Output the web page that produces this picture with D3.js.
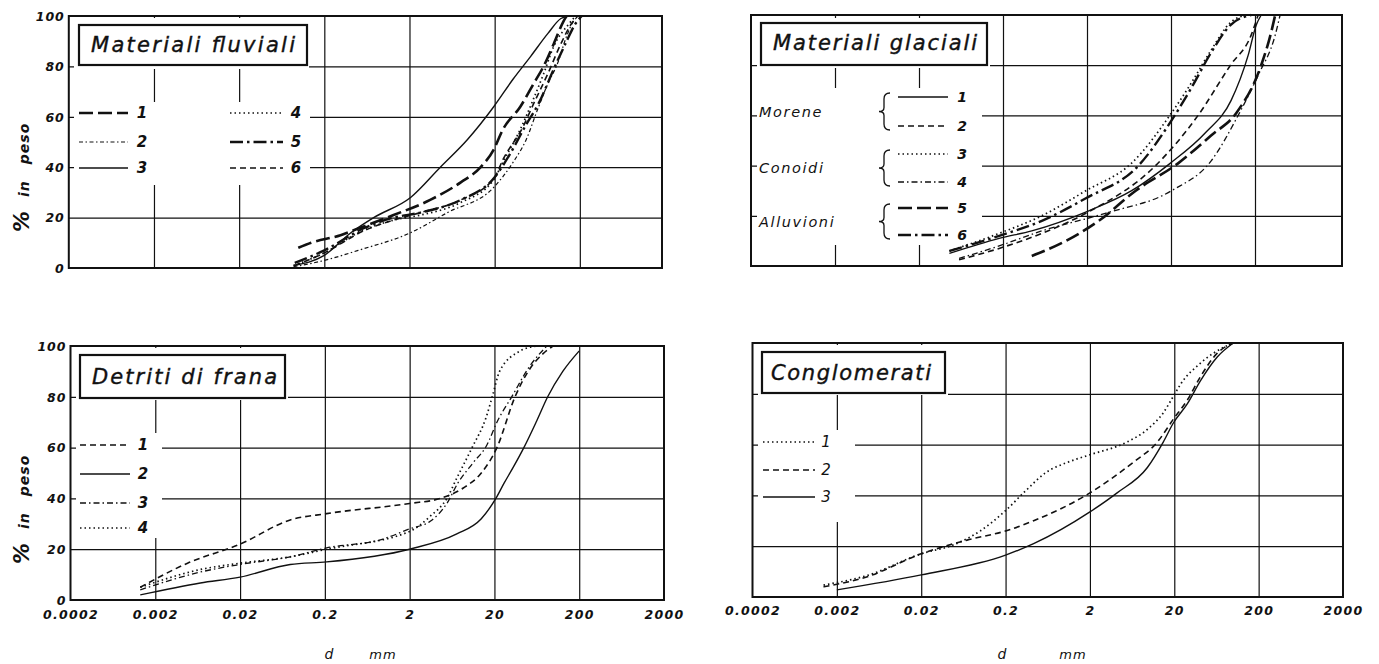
<!DOCTYPE html>
<html>
<head>
<meta charset="utf-8">
<script src="https://cdn.jsdelivr.net/npm/d3@7"></script>
<style>
  body { margin: 0; background: #fff; }
  text { font-family: "DejaVu Sans", sans-serif; fill: #111; }
</style>
</head>
<body>
<svg id="chart" width="1379" height="664"></svg>
<script>
// ---- tick values and labels ----
const xTicks = [0.0002, 0.002, 0.02, 0.2, 2, 20, 200, 2000];
const xTickLabels = ["0.0002", "0.002", "0.02", "0.2", "2", "20", "200", "2000"];
const yTicks = [0, 20, 40, 60, 80, 100];
const yTickLabels = ["0", "20", "40", "60", "80", "100"];

// ---- curves: [d in mm, % in peso] ----
// Materiali fluviali
const fluviali1 = [[0.099, 8], [0.14, 10], [0.31, 13], [0.53, 16], [1.3, 21], [3.5, 27], [8, 34], [13.7, 40], [19.5, 47], [25, 55], [40, 64], [57, 73], [75, 80], [99, 89], [129, 98], [140, 100]];
const fluviali2 = [[0.087, 0.5], [0.2, 3], [0.5, 7], [2.06, 14], [5.6, 22], [19.5, 32], [33, 42], [47, 51], [64, 63], [84, 73], [109, 81], [140, 92], [169, 98], [200, 100]];
const fluviali3 = [[0.087, 1], [0.2, 5], [0.41, 14], [0.76, 20], [2.06, 28], [4.6, 40], [9.6, 51], [19.5, 64], [33, 75], [53, 84], [84, 93], [120, 99], [150, 100]];
const fluviali4 = [[0.087, 1], [0.2, 6], [0.5, 14], [1.3, 19], [2.7, 21], [8, 26], [19.5, 35], [25, 42], [40, 55], [57, 67], [75, 77], [99, 88], [150, 97], [178, 100]];
const fluviali5 = [[0.09, 2], [0.2, 7], [0.6, 16], [1.3, 20], [2.7, 22], [8, 27], [20, 36], [30, 45], [47, 57], [65, 65], [99, 79], [140, 90], [178, 97], [211, 100]];
const fluviali6 = [[0.09, 1], [0.2, 6], [0.6, 15], [1.3, 19], [2.7, 22], [8, 27], [20, 36], [25, 43], [43, 56], [57, 65], [84, 77], [120, 89], [160, 97], [190, 100]];

// Materiali glaciali
const glaciali1 = [[0.046, 5], [0.18, 11], [0.44, 14], [2.1, 22], [6.8, 30], [19.7, 41], [51, 53], [104, 66], [166, 84], [207, 96], [237, 100]];
const glaciali2 = [[0.06, 2.5], [0.18, 7], [0.58, 13], [1.94, 21], [13.1, 40], [42, 60], [102, 80], [180, 92], [218, 100]];
const glaciali3 = [[0.046, 6], [0.18, 13], [0.58, 20], [1.94, 30], [6.8, 41], [20.3, 61], [35, 73], [60, 86], [102, 97], [157, 100]];
const glaciali4 = [[0.06, 3], [0.18, 8], [0.58, 14], [3.3, 21], [20.3, 30], [60.5, 42], [126, 60], [218, 76], [348, 92], [398, 100]];
const glaciali5 = [[0.44, 4], [1.12, 10], [2.76, 18], [7.6, 30], [24.5, 41], [60, 52], [120, 61], [237, 80], [311, 93], [348, 100]];
const glaciali6 = [[0.046, 6], [0.18, 12], [0.58, 18], [1.94, 27], [8.2, 40], [20.3, 58], [35, 71], [60, 85], [102, 96], [180, 100]];

// Detriti di frana
const frana1 = [[0.00133, 5], [0.0048, 14.5], [0.02, 22], [0.078, 31.5], [0.21, 34], [2, 38], [4.6, 40], [8.5, 44], [14, 50], [21.4, 60], [35, 80], [50, 90], [75, 97], [98, 100]];
const frana2 = [[0.00133, 2], [0.0068, 6.7], [0.02, 9], [0.078, 14], [0.21, 15], [2, 20], [7.2, 26], [14, 32], [20.8, 40], [26, 46], [33, 52], [44.5, 60], [63, 70.5], [85, 80], [128, 90], [199, 98]];
const frana3 = [[0.00133, 4], [0.0068, 11], [0.02, 14], [0.078, 17], [0.21, 20.5], [0.97, 24], [2, 28], [3.5, 31], [5.5, 38], [7.4, 46], [11.2, 54], [16.3, 61], [21.4, 70], [32, 80], [52, 92], [83, 100]];
const frana4 = [[0.00133, 5], [0.0068, 12], [0.02, 14.5], [0.078, 17], [0.21, 20], [2, 27], [3.5, 33], [5.5, 40], [7.2, 48], [10.9, 60], [16, 72], [19.2, 81], [23, 90], [40, 98], [63, 100]];

// Conglomerati
const conglomerati1 = [[0.00139, 4.7], [0.0046, 8.5], [0.02, 17], [0.048, 20.5], [0.1, 26], [0.2, 34], [0.35, 42], [0.6, 49], [1.08, 53], [2, 56], [5.5, 61], [9.6, 66], [14.8, 72.5], [19.5, 79], [24, 84], [40.6, 92], [85, 99], [100, 100]];
const conglomerati2 = [[0.00139, 4], [0.0046, 8], [0.02, 17], [0.07, 22.4], [0.2, 26], [0.43, 30], [2, 41], [6.5, 53], [12.6, 61], [19.5, 70], [28.5, 77.5], [40.6, 86.6], [64.6, 96], [100, 100]];
const conglomerati3 = [[0.002, 2.8], [0.02, 8.7], [0.2, 16.5], [0.43, 21], [2, 33.5], [4.2, 41], [9.6, 51], [14.8, 61], [19.5, 68.5], [28.5, 76], [40.6, 85], [64.6, 94.5], [100, 100]];

// line styles
const styles = {
  solid:       { w: 1.4, dash: null },
  dashed:      { w: 1.6, dash: "6,4" },
  dotted:      { w: 1.7, dash: "1.5,3" },
  dashDot:     { w: 1.3, dash: "6,3,1.5,3" },
  dotDash:     { w: 1.2, dash: "4,2.5,1.5,2.5" },
  longDash:    { w: 2.6, dash: "14,5" },
  longDashDot: { w: 2.4, dash: "13,4,2.5,4" }
};

const ink = "#111";
const svg = d3.select("#chart");
svg.append("rect").attr("width", 1379).attr("height", 664).attr("fill", "#fff");

const panels = [
  {
    title: "Materiali fluviali", xr: [68.8, 665], right: 662, yr: [268, 16],
    series: [fluviali1, fluviali2, fluviali3, fluviali4, fluviali5, fluviali6],
    styles: ["longDash", "dotDash", "solid", "dotted", "longDashDot", "dashed"],
    yLabels: true, xLabels: false,
    box: [79, 25, 228, 40], titleX: 91, titleY: 52, titleW: 204,
    masks: [[74, 18, 235, 51], [74, 102, 236, 83]]
  },
  {
    title: "Materiali glaciali", xr: [751, 1339], right: 1342, yr: [266, 15],
    series: [glaciali1, glaciali2, glaciali3, glaciali4, glaciali5, glaciali6],
    styles: ["solid", "dashed", "dotted", "dashDot", "longDash", "longDashDot"],
    yLabels: false, xLabels: false,
    box: [761, 23, 226, 42], titleX: 773, titleY: 50, titleW: 204,
    masks: [[757, 18, 233, 50], [757, 88, 225, 157]]
  },
  {
    title: "Detriti di frana", xr: [70.5, 664], right: 664, yr: [600, 346],
    series: [frana1, frana2, frana3, frana4],
    styles: ["dashed", "solid", "dashDot", "dotted"],
    yLabels: true, xLabels: true, xLabelY: 622,
    box: [80, 355, 205, 43], titleX: 92, titleY: 384, titleW: 185,
    masks: [[76, 348, 212, 52], [76, 433, 86, 105]]
  },
  {
    title: "Conglomerati", xr: [752.5, 1343], right: 1343, yr: [597, 343],
    series: [conglomerati1, conglomerati2, conglomerati3],
    styles: ["dotted", "dashed", "solid"],
    yLabels: false, xLabels: true, xLabelY: 618,
    box: [762, 352, 183, 41], titleX: 771, titleY: 380, titleW: 160,
    masks: [[758, 345, 190, 50], [758, 430, 97, 92]]
  }
];

function applyStyle(sel, key) {
  const s = styles[key];
  sel.attr("fill", "none").attr("stroke", ink)
    .attr("stroke-width", s.w)
    .attr("stroke-dasharray", s.dash);
}

panels.forEach(p => {
  const x = d3.scaleLog().domain([xTicks[0], xTicks[xTicks.length - 1]]).range(p.xr);
  const y = d3.scaleLinear().domain([0, 100]).range(p.yr);
  const left = p.xr[0], right = p.right, top = p.yr[1], bottom = p.yr[0];
  const g = svg.append("g");

  // grid lines
  const gx = g.append("g").attr("transform", `translate(0,${bottom})`)
    .call(d3.axisBottom(x).tickValues(xTicks.slice(1, -1)).tickSize(-(bottom - top)).tickFormat(""));
  gx.select(".domain").remove();
  gx.selectAll(".tick line").attr("stroke", ink).attr("stroke-width", 1.2);

  const gy = g.append("g").attr("transform", `translate(${left},0)`)
    .call(d3.axisLeft(y).tickValues(yTicks.slice(1, -1)).tickSize(-(right - left)).tickFormat(""));
  gy.select(".domain").remove();
  gy.selectAll(".tick line").attr("stroke", ink).attr("stroke-width", 1.2);

  // blank areas behind title and legend
  p.masks.forEach(m => {
    g.append("rect").attr("x", m[0]).attr("y", m[1]).attr("width", m[2]).attr("height", m[3]).attr("fill", "#fff");
  });

  // frame
  g.append("rect").attr("x", left).attr("y", top)
    .attr("width", right - left).attr("height", bottom - top)
    .attr("fill", "none").attr("stroke", ink).attr("stroke-width", 2);

  // title box
  g.append("rect").attr("x", p.box[0]).attr("y", p.box[1]).attr("width", p.box[2]).attr("height", p.box[3])
    .attr("fill", "#fff").attr("stroke", ink).attr("stroke-width", 2.2);
  g.append("text").attr("x", p.titleX).attr("y", p.titleY)
    .attr("textLength", p.titleW).attr("lengthAdjust", "spacing")
    .style("font-size", "21px").style("font-style", "italic")
    .style("stroke", ink).style("stroke-width", 0.4)
    .text(p.title);

  // tick labels
  if (p.yLabels) {
    const ay = g.append("g").attr("transform", `translate(${left - 4},0)`)
      .call(d3.axisLeft(y).tickValues(yTicks).tickSize(0).tickPadding(0)
        .tickFormat((d, i) => yTickLabels[i]));
    ay.select(".domain").remove();
    ay.selectAll("text").attr("font-family", null)
      .style("font-size", "12.5px").style("font-weight", "bold").style("font-style", "italic")
      .style("letter-spacing", "1px").attr("dy", "0.35em");
  }
  if (p.xLabels) {
    const ax = g.append("g").attr("transform", `translate(0,${p.xLabelY - 12})`)
      .call(d3.axisBottom(x).tickValues(xTicks).tickSize(0).tickPadding(0)
        .tickFormat((d, i) => xTickLabels[i]));
    ax.select(".domain").remove();
    ax.selectAll("text").attr("font-family", null)
      .style("font-size", "12.5px").style("font-weight", "bold").style("font-style", "italic")
      .style("letter-spacing", "1.3px");
  }

  // curves
  const line = d3.line()
    .x(d => x(d[0]))
    .y(d => y(d[1]))
    .curve(d3.curveMonotoneX);
  p.series.forEach((s, i) => {
    g.append("path").datum(s).attr("d", line).call(applyStyle, p.styles[i]);
  });

  p.g = g;
});

// ---- legends ----
function legendRow(g, x1, x2, yy, styleKey, label, lx, opts) {
  g.append("line").attr("x1", x1).attr("x2", x2).attr("y1", yy).attr("y2", yy).call(applyStyle, styleKey);
  g.append("text").attr("x", lx).attr("y", yy + 5)
    .attr("text-anchor", "middle")
    .style("font-size", (opts && opts.size) || "15px")
    .style("font-weight", (opts && opts.weight) || "bold")
    .style("font-style", "italic")
    .text(label);
}

// fluviali: two columns
{
  const p = panels[0], g = p.g;
  const rows = [113, 142, 168];
  [0, 1, 2].forEach(i => legendRow(g, 79, 128, rows[i], p.styles[i], String(i + 1), 142));
  [3, 4, 5].forEach((s, i) => legendRow(g, 230, 283, rows[i], p.styles[s], String(s + 1), 296));
}

// glaciali: grouped with braces
{
  const p = panels[1], g = p.g;
  const rows = [97, 126, 154, 182, 208, 235];
  rows.forEach((r, i) => legendRow(g, 898, 948, r, p.styles[i], String(i + 1), 962, { size: "14px" }));
  const groups = ["Morene", "Conoidi", "Alluvioni"];
  groups.forEach((name, k) => {
    const y1 = rows[2 * k] - 4, y2 = rows[2 * k + 1] + 4, ym = (y1 + y2) / 2, bx = 884;
    const b = d3.path();
    b.moveTo(bx + 6, y1);
    b.quadraticCurveTo(bx, y1, bx, y1 + 6);
    b.lineTo(bx, ym - 4);
    b.quadraticCurveTo(bx, ym, bx - 5, ym);
    b.quadraticCurveTo(bx, ym, bx, ym + 4);
    b.lineTo(bx, y2 - 6);
    b.quadraticCurveTo(bx, y2, bx + 6, y2);
    g.append("path").attr("d", b.toString()).attr("fill", "none").attr("stroke", ink).attr("stroke-width", 1.3);
    g.append("text").attr("x", 759).attr("y", ym + 5)
      .style("font-size", "14.5px").style("font-style", "italic").style("letter-spacing", "1.6px")
      .text(name);
  });
}

// frana
{
  const p = panels[2], g = p.g;
  const rows = [445, 474, 503, 528];
  rows.forEach((r, i) => legendRow(g, 80, 130, r, p.styles[i], String(i + 1), 143));
}

// conglomerati
{
  const p = panels[3], g = p.g;
  const rows = [442, 470, 497];
  rows.forEach((r, i) => legendRow(g, 763, 815, r, p.styles[i], String(i + 1), 826, { weight: "normal" }));
}

// ---- axis titles ----
[168, 500].forEach(cy => {
  const t = svg.append("text")
    .attr("transform", `translate(29,${cy + 64}) rotate(-90)`)
    .style("font-weight", "bold").style("font-style", "italic");
  t.append("tspan").style("font-size", "21px").text("%");
  t.append("tspan").attr("dx", 14).style("font-size", "14px").style("letter-spacing", "1px").text("in");
  t.append("tspan").attr("dx", 16).style("font-size", "14px").style("letter-spacing", "1px").text("peso");
});

[[329, 383], [1002, 1073]].forEach(([dx, mx]) => {
  svg.append("text").attr("x", dx).attr("y", 659).attr("text-anchor", "middle")
    .style("font-size", "14px").style("font-style", "italic").text("d");
  svg.append("text").attr("x", mx).attr("y", 659).attr("text-anchor", "middle")
    .style("font-size", "13px").style("font-style", "italic").style("letter-spacing", "1px").text("mm");
});
</script>
</body>
</html>
